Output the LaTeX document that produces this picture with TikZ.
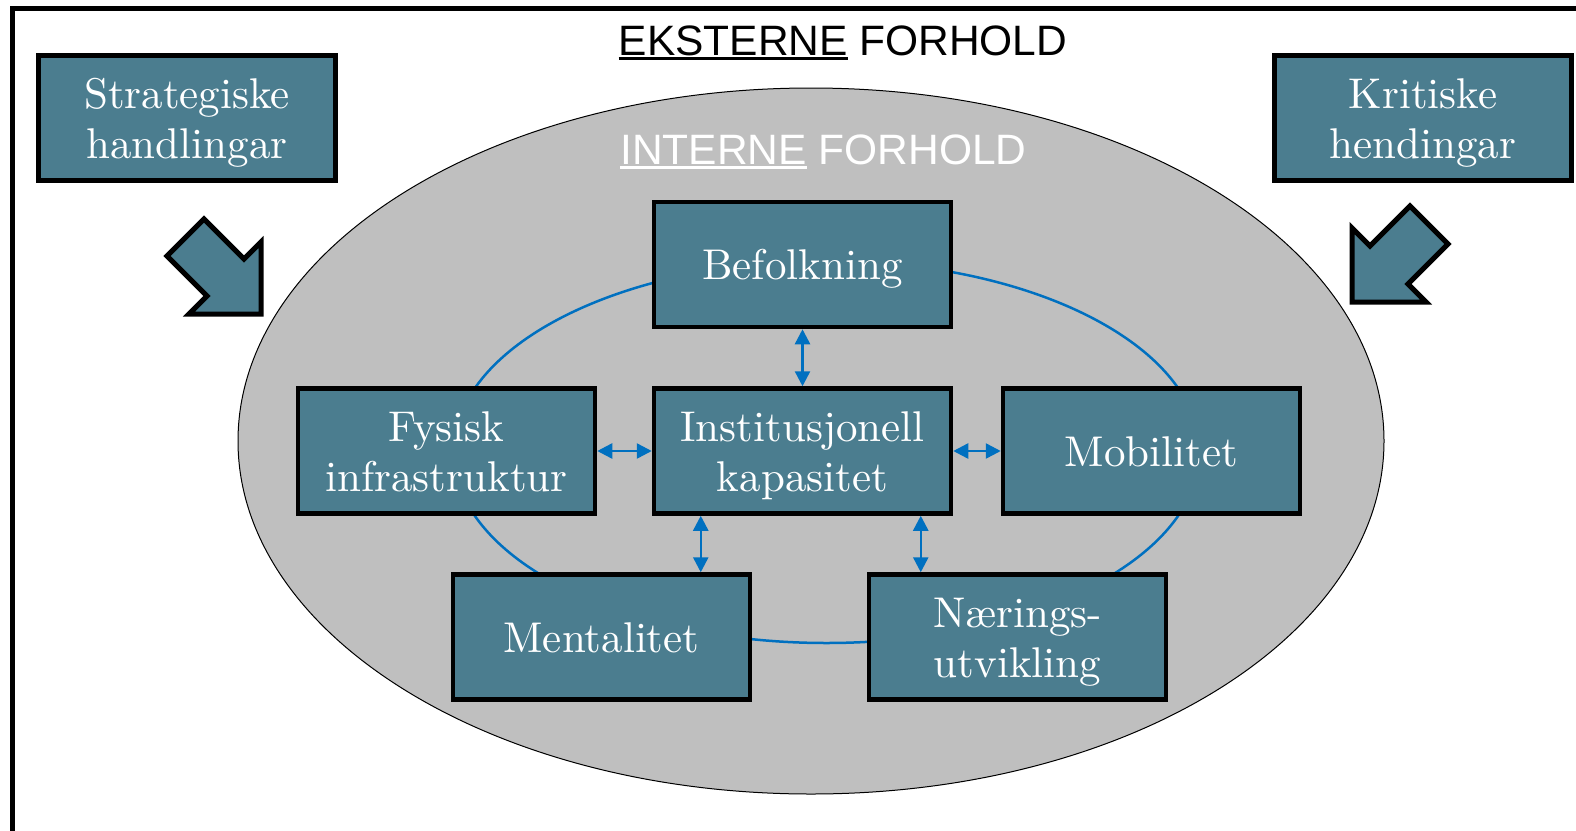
\documentclass[tikz,border=0pt]{standalone}
\usepackage{fontspec}
\setmainfont{lmroman10-regular}[Extension=.otf]
\newfontfamily\arialf{Liberation Sans}
\usetikzlibrary{arrows.meta}
\definecolor{tealbox}{HTML}{4B7D8F}
\definecolor{grayfill}{HTML}{BFBFBF}
\definecolor{ringblue}{HTML}{0070C0}
\newcommand\ulword[2]{\setbox0\hbox{#2}\rlap{\color{#1}\rule[-4.5pt]{\wd0}{2.5pt}}\box0\relax}
\newcommand\bs{\rule[-9.5pt]{0pt}{49.5pt}}
\begin{document}
\begin{tikzpicture}[x=1pt,y=-1pt,
 box/.style={draw=black, line width=4.5pt, fill=tealbox, minimum width=297pt, minimum height=125pt, inner sep=0pt, text=white, align=center, font=\fontsize{43}{50}\selectfont},
 fatarrow/.style={draw=black, line width=5pt, fill=tealbox, line join=miter},
 link/.style={draw=ringblue, line width=2.5pt, {Triangle[length=15pt,width=15pt]}-{Triangle[length=15pt,width=15pt]}},
 title/.style={anchor=base, font=\arialf\fontsize{42.5}{50}\selectfont}
 ]
\clip (0,0) rectangle (1576,830);
\fill[white] (0,0) rectangle (1576,830);
\draw[line width=5pt] (12.5,900) -- (12.5,8.5) -- (1600,8.5);
\draw[fill=grayfill, line width=1pt] (811,441) ellipse [x radius=573pt, y radius=353pt];
\draw[ringblue, line width=2.5pt] (826.5,452) ellipse [x radius=373pt, y radius=191pt];

\node[title] (ext) at (843,55) {\ulword{black}{EKSTERNE} FORHOLD};
\node[title, text=white] (int) at (823.5,164) {\ulword{white}{INTERNE} FORHOLD};

\node[box] (strat) at (187,118) {\bs Strategiske\\\bs handlingar};
\node[box] (krit) at (1423,118) {\bs Kritiske\\\bs hendingar};
\node[box] (bef) at (802.5,264.5) {\bs Befolkning};
\node[box] (fys) at (446.5,451) {\bs Fysisk\\\bs infrastruktur};
\node[box] (inst) at (802.5,451) {\bs Institusjonell\\\bs kapasitet};
\node[box] (mob) at (1151.5,451) {\bs Mobilitet};
\node[box] (ment) at (601.5,637) {\bs Mentalitet};
\node[box] (naer) at (1017.5,637) {\bs Nærings-\\\bs utvikling};

\draw[link] (bef.south) -- (inst.north);
\draw[link] (fys.east) -- (inst.west);
\draw[link] (inst.east) -- (mob.west);
\draw[link] ([xshift=49pt]inst.south west) -- ([xshift=49pt]inst.south west |- ment.north);
\draw[link] ([xshift=269pt]inst.south west) -- ([xshift=269pt]inst.south west |- naer.north);

\draw[fatarrow] (204,219) -- (244,259) -- (261,242) -- (261,314) -- (189,314) -- (207,296) -- (167,256) -- cycle;
\draw[fatarrow] (1410,206) -- (1370,246) -- (1352,228) -- (1352,302) -- (1426,302) -- (1408,284) -- (1448,244) -- cycle;
\end{tikzpicture}
\end{document}
